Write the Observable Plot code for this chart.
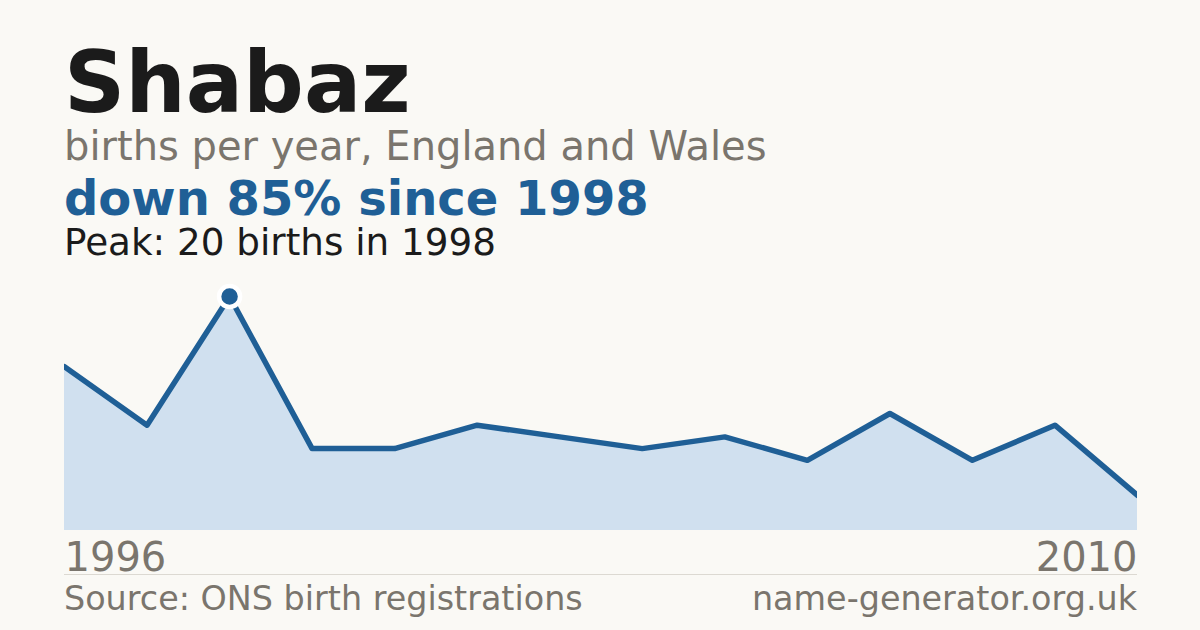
<!DOCTYPE html>
<html><head><meta charset="utf-8">
<script src="https://cdn.jsdelivr.net/npm/d3@7"></script>
<script src="https://cdn.jsdelivr.net/npm/@observablehq/plot@0.6"></script>
<style>
html,body{margin:0;padding:0}
body{background:#faf9f5;width:1200px;height:630px;overflow:hidden;font-family:"DejaVu Sans",sans-serif;position:relative}
.t{position:absolute;left:64px;line-height:0.9;white-space:nowrap}
</style></head><body>
<div class="t" style="top:45px;font-size:85px;font-weight:bold;color:#1b1b1b">Shabaz</div>
<div class="t" style="top:128px;font-size:40px;color:#7a756d">births per year, England and Wales</div>
<div class="t" style="top:177px;font-size:48px;font-weight:bold;color:#1f5f96">down 85% since 1998</div>
<div class="t" style="top:226px;font-size:37.3px;color:#1b1b1b">Peak: 20 births in 1998</div>
<div id="chart" style="position:absolute;left:0;top:280px"></div>
<div style="position:absolute;left:64px;width:1073px;top:574px;border-top:1px solid #dcd9d2"></div>
<div class="t" style="top:584px;font-size:33.4px;color:#7a756d">Source: ONS birth registrations</div>
<div class="t" style="top:584px;left:auto;right:63px;font-size:33.4px;color:#7a756d">name-generator.org.uk</div>
<script>
const years = [1996,1997,1998,1999,2000,2001,2002,2003,2004,2005,2006,2007,2008,2010];
const births = [14,9,20,7,7,9,8,7,8,6,10,6,9,3];
const tickYears = [1996, 2010];

const data = years.map((year, i) => ({year, births: births[i]}));
const maxB = d3.max(births);
const peak = data.filter(d => d.births === maxB);

const chart = Plot.plot({
  width: 1200,
  height: 300,
  marginLeft: 64,
  marginRight: 63,
  marginTop: 16,
  marginBottom: 50,
  x: {type: "point", domain: years, padding: 0, round: false, axis: null},
  y: {domain: [0, maxB], axis: null},
  style: {background: "transparent", fontFamily: "DejaVu Sans", overflow: "visible"},
  marks: [
    Plot.areaY(data, {x: "year", y: "births", fill: "#d0e0ef"}),
    Plot.lineY(data, {x: "year", y: "births", stroke: "#1f5f96", strokeWidth: 5.5, clip: "frame"}),
    Plot.dot(peak, {x: "year", y: "births", r: 10.5, fill: "#1f5f96", stroke: "#ffffff", strokeWidth: 4.5}),
    Plot.text([tickYears[0]], {x: d => d, text: d => String(d), frameAnchor: "bottom", lineAnchor: "bottom", dy: 40, textAnchor: "start", fontSize: 40, fill: "#7a756d"}),
    Plot.text([tickYears[1]], {x: d => d, text: d => String(d), frameAnchor: "bottom", lineAnchor: "bottom", dy: 40, textAnchor: "end", fontSize: 40, fill: "#7a756d"})
  ]
});
document.getElementById("chart").appendChild(chart);
</script>
</body></html>
